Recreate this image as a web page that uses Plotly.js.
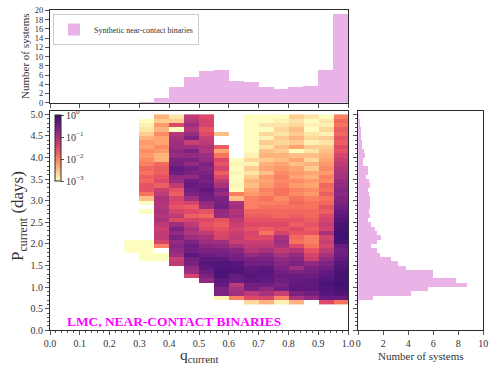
<!DOCTYPE html>
<html>
<head>
<meta charset="utf-8">
<script src="https://cdn.plot.ly/plotly-3.0.1.min.js"></script>
<style>html,body{margin:0;padding:0;background:#fff;}#chart{width:498px;height:367px;}</style>
</head>
<body>
<div id="chart"></div>
<script>
const _ = null;
// q_current bins (left edges), width 0.05
const qBinLeft = [0.25,0.30,0.35,0.40,0.45,0.50,0.55,0.60,0.65,0.70,0.75,0.80,0.85,0.90,0.95];
const qBinWidth = 0.05;
// top histogram: number of systems per q bin
const qCounts = [0.03,0.15,1.0,3.4,5.6,6.9,7.1,4.7,4.5,3.4,3.0,3.4,3.6,7.1,19.3];
// P_current bins (left edges start 0.6, width 0.1, 44 bins)
const pBinStart = 0.6;
const pBinWidth = 0.1;
// right histogram: number of systems per P bin (from P=0.6 upward)
const pCounts = [0.05,1.2,4.2,5.6,8.7,7.8,6.0,6.0,3.8,3.2,
                 2.6,1.7,1.5,1.0,1.5,1.8,1.5,1.3,1.0,0.8,
                 0.9,0.85,0.9,0.95,0.9,0.85,0.8,0.9,0.85,0.6,
                 0.8,0.75,0.4,0.4,0.5,0.45,0.3,0.3,0.25,0.25,
                 0.2,0.15,0.15,0.05];
// 2D density, log10 values; each column listed from P=4.9-5.0 (top) down to P=0.6-0.7 (bottom)
const q025 = [_,_,_,_,_,_,_,_,_,_, _,_,_,_,_,_,_,_,_,_, _,_,_,_,_,_,_,_,_,-3, -3,-3,_,_,_,_,_,_,_,_, _,_,_,_];
const q030 = [_,-3,-2.9,-2.8,-2.6,-2.4,-2.2,-2.3,-2.1,-2.2, -2.1,-2.0,-1.8,-1.9,-1.7,-1.8,-1.6,-1.6,-1.9,-2.5, -3,_,-3,_,_,_,_,_,_,-3, -3,-3,-3,-3,_,_,_,_,_,_, _,_,_,_];
const q035 = [-2.4,-2.6,-2.2,-2.4,-2.1,-2.3,-2.3,-2.1,-2.2,-2.4, -2.4,-1.8,-1.7,-1.7,-1.6,-1.5,-1.7,-1.3,-1.2,-1.0, -1.1,-1.1,-1.0,-1.1,-1.0,-1.2,-1.3,-1.2,-1.2,-1.4, -2.0,_,-3,-3,_,_,_,_,_,_, _,_,_,_];
const q040 = [-2.8,-2.6,-1.5,-3,-1.1,-1.0,-0.9,-0.9,-0.75,-0.85, -0.6,-0.55,-0.4,-0.45,-0.8,-0.85,-1.2,-1.6,-1.7,-1.4, -1.5,-1.6,-1.4,-1.2,-1.5,-0.9,-0.6,-0.8,-0.6,-0.8, -0.7,-0.8,-0.9,-1.3,-1.2,_,_,_,_,_, _,_,_,_];
const q045 = [-1.2,-1.1,-0.9,-1.1,-0.85,-0.6,-1.3,-0.9,-0.6,-0.8, -0.6,-0.8,-0.5,-0.6,-0.8,-0.45,-0.4,-0.5,-0.6,-0.9, -1.4,-1.7,-1.5,-1.7,-1.4,-1.2,-1.0,-1.1,-0.9,-0.6, -0.45,-0.5,-0.3,-0.5,-0.55,-0.8,-0.9,-1.4,_,_, _,_,_,_];
const q050 = [-1.5,-1.4,-1.4,-1.6,-1.5,-1.3,-1.2,-1.0,-1.1,-0.9, -0.85,-0.6,-0.7,-0.6,-0.5,-0.55,-0.45,-0.35,-0.45,-0.5, -0.8,-0.9,-1.6,-1.8,-1.5,-1.6,-1.5,-1.2,-1.0,-0.9, -0.7,-0.6,-0.45,-0.3,-0.25,-0.3,-0.45,-0.6,-0.8,_, _,_,_,_];
const q055 = [_,_,_,_,-2.5,_,_,-1.7,-2.3,-1.9, -1.5,-1.6,-1.4,-1.7,-1.5,-1.2,-1.0,-0.7,-0.85,-0.6, -0.55,-0.5,-0.8,-0.85,-1.6,-1.7,-1.6,-1.5,-1.4,-0.9, -0.8,-0.6,-0.5,-0.3,-0.2,-0.2,-0.15,-0.15,-0.3,-0.4, -0.6,-0.6,-2.9,_];
const q060 = [_,_,_,_,_,_,_,_,_,_, -3,-2.95,-3,-2.95,-3,-3,-2.95,-3,-2.0,-2.5, -1.0,-0.9,-1.1,-1.0,-1.2,-1.3,-1.4,-1.3,-1.2,-1.3, -1.0,-0.7,-0.6,-0.5,-0.25,-0.2,-0.2,-0.4,-0.45,-1.2, -1.0,-0.9,-2.0,_];
const q065 = [-3,-3,-3,-3,-3,-3,-3,-3,-3,-2.9, -2.7,-2.9,-2.6,-2.8,-2.6,-2.4,-2.5,-2.3,-2.2,-2.0, -2.0,-2.0,-1.8,-1.7,-1.6,-1.5,-1.6,-1.4,-1.5,-1.3, -1.2,-1.1,-0.8,-0.6,-0.5,-0.35,-0.3,-0.25,-0.3,-0.5, -0.55,-1.2,-1.5,-2.7];
const q070 = [-3,-3,-2.8,-3,-2.7,-2.9,-2.6,-2.8,-2.5,-2.4, -2.6,-2.4,-2.3,-2.5,-2.2,-2.3,-2.2,-2.0,-2.1,-1.9, -2.0,-1.9,-1.8,-1.7,-1.6,-1.5,-1.7,-1.9,-1.5,-1.3, -1.2,-1.0,-0.7,-0.6,-0.5,-0.3,-0.25,-0.3,-0.35,-0.5, -0.8,-1.0,-1.4,-2.4];
const q075 = [-3,-2.9,-2.8,-2.7,-2.8,-2.6,-2.7,-2.5,-2.6,-2.4, -2.5,-2.3,-2.2,-2.1,-2.0,-2.1,-2.0,-1.9,-1.9,-2.1, -2.0,-1.9,-1.8,-1.8,-1.6,-1.5,-1.6,-1.4,-1.0,-0.9, -1.0,-1.2,-1.0,-0.8,-0.7,-0.6,-0.5,-0.4,-0.5,-0.6, -0.5,-1.3,-2.0,-2.9];
const q080 = [-2.6,-2.8,-2.7,-2.5,-2.6,-2.4,-2.6,-2.3,-3,-2.5, -2.3,-2.5,-2.3,-2.2,-2.3,-2.1,-2.2,-2.0,-2.1,-1.9, -1.8,-1.9,-1.8,-1.7,-1.6,-1.7,-1.5,-1.6,-1.8,-1.9, -1.5,-1.1,-0.8,-0.7,-0.6,-0.9,-0.6,-0.45,-0.4,-0.35, -0.3,-0.6,-1.0,-2.4];
const q085 = [-2.8,-3,-2.9,-3,-2.8,-2.7,-2.9,-2.6,-2.8,-2.5, -2.7,-2.4,-2.6,-2.3,-2.4,-2.2,-2.3,-2.1,-2.2,-2.0, -1.9,-1.9,-1.8,-1.8,-1.7,-1.6,-1.7,-1.6,-2.0,-2.0, -1.9,-1.6,-1.4,-1.3,-0.8,-0.6,-0.5,-0.45,-0.35,-0.35, -0.3,-0.5,-0.8,_];
const q090 = [-3,-2.8,-2.9,-2.7,-2.9,-2.6,-2.8,-2.6,-2.5,-2.4, -2.3,-2.2,-2.1,-2.2,-2.0,-2.1,-1.8,-1.9,-1.7,-1.9, -1.8,-1.6,-1.7,-1.5,-1.4,-1.3,-1.4,-1.0,-1.4,-1.3, -1.4,-1.2,-1.0,-0.8,-0.6,-0.5,-0.35,-0.3,-0.2,-0.15, -0.2,-0.25,-0.4,-1.5];
const q095 = [-2.0,-1.8,-1.9,-1.7,-1.8,-1.6,-1.7,-1.5,-1.6,-1.4, -1.3,-1.2,-1.1,-1.0,-1.0,-0.85,-0.8,-0.7,-0.75,-0.65, -0.6,-0.5,-0.4,-0.3,-0.2,-0.15,-0.1,-0.05,-0.05,-0.1, -0.4,-0.5,-0.45,-0.35,-0.25,-0.2,-0.15,-0.1,-0.1,-0.05, -0.1,-0.2,-0.4,-1.9];
const densityColumns = [q025,q030,q035,q040,q045,q050,q055,q060,q065,q070,q075,q080,q085,q090,q095];
const cbTickVals = [0,-1,-2,-3];
const cbTickText = ['10<sup>0</sup>','10<sup>−1</sup>','10<sup>−2</sup>','10<sup>−3</sup>'];
const legendName = 'Synthetic near-contact binaries';
const panelLabel = 'LMC, NEAR-CONTACT BINARIES';
const xTitle = 'q<sub>current</sub>';
const yTitle = 'P<sub>current</sub> (days)';
const histTitle = 'Number of systems';

// ---- build traces ----
const nP = pCounts.length;
const z = [];
for (let r = 0; r < nP; r++) {
  const row = [];
  for (let c = 0; c < densityColumns.length; c++) row.push(densityColumns[c][nP - 1 - r]);
  z.push(row);
}
const qCenters = qBinLeft.map(v => v + qBinWidth / 2);
const pCenters = pCounts.map((_v, i) => pBinStart + pBinWidth * (i + 0.5));

const W = 498, H = 367;
const fx = p => p / W, fy = p => 1 - p / H;
const FONT = 'Liberation Serif, Times New Roman, serif';
const histColor = '#e9b3e8';
const axisCol = '#2b2b2b';
const txtCol = '#333333';

const magma = [
  [0.000, '#fcfdbf'], [0.125, '#fecf92'], [0.250, '#fe9f6d'], [0.375, '#f7705c'],
  [0.500, '#de4968'], [0.625, '#b73779'], [0.750, '#8c2981'], [0.875, '#641a80'], [1.000, '#3b0f70']
];

const heat = {
  type: 'heatmap', z: z, x0: qCenters[0], dx: qBinWidth, y0: pCenters[0], dy: pBinWidth,
  xaxis: 'x', yaxis: 'y', zmin: -3, zmax: 0, colorscale: magma, showlegend: false,
  hoverongaps: false,
  colorbar: {
    x: fx(55), xanchor: 'left', y: fy(115), yanchor: 'top',
    len: 66, lenmode: 'pixels', thickness: 6, thicknessmode: 'pixels',
    xpad: 0, ypad: 0, outlinewidth: 1, outlinecolor: axisCol,
    tickmode: 'array', tickvals: cbTickVals, ticktext: cbTickText,
    ticks: 'outside', ticklen: 3, tickwidth: 0.8, tickcolor: axisCol,
    tickfont: { family: FONT, size: 10, color: txtCol }
  }
};
const topHist = {
  type: 'bar', x: qCenters, y: qCounts, width: qBinWidth, xaxis: 'x2', yaxis: 'y2',
  marker: { color: histColor, line: { width: 0 } }, name: legendName, showlegend: true
};
const rightHist = {
  type: 'bar', orientation: 'h', y: pCenters, x: pCounts, width: pBinWidth, xaxis: 'x3', yaxis: 'y3',
  marker: { color: histColor, line: { width: 0 } }, showlegend: false
};

const common = {
  showgrid: false, zeroline: false, showline: true, mirror: true, linecolor: axisCol, linewidth: 1,
  ticks: 'outside', tickcolor: axisCol, tickwidth: 0.8, ticklen: 4,
  tickfont: { family: FONT, size: 10, color: txtCol }, automargin: false
};

const layout = {
  width: W, height: H, margin: { l: 0, r: 0, t: 0, b: 0 },
  paper_bgcolor: '#fff', plot_bgcolor: '#fff', bargap: 0,
  font: { family: FONT, color: txtCol },
  xaxis: Object.assign({}, common, {
    domain: [fx(50), fx(348)], range: [0, 1], anchor: 'y', dtick: 0.1, tick0: 0, tickformat: '.1f',
    minor: { dtick: 0.02, ticks: 'outside', ticklen: 2, tickcolor: axisCol, showgrid: false }
  }),
  yaxis: Object.assign({}, common, {
    domain: [fy(330.3), fy(110.5)], range: [0, 5.09], anchor: 'x', dtick: 0.5, tick0: 0, tickformat: '.1f',
    minor: { dtick: 0.1, ticks: 'outside', ticklen: 2, tickcolor: axisCol, showgrid: false }
  }),
  xaxis2: Object.assign({}, common, {
    domain: [fx(50), fx(348)], range: [0, 1], anchor: 'y2', dtick: 0.1, tick0: 0, showticklabels: false
  }),
  yaxis2: Object.assign({}, common, {
    domain: [fy(102.7), fy(10)], range: [0, 20.1], anchor: 'x2', dtick: 2, tick0: 0,
    tickfont: { family: FONT, size: 8.5, color: txtCol }
  }),
  xaxis3: Object.assign({}, common, {
    domain: [fx(358.3), fx(483.3)], range: [0, 10], anchor: 'y3', dtick: 2, tick0: 0
  }),
  yaxis3: Object.assign({}, common, {
    domain: [fy(330.3), fy(110.5)], range: [0, 5.09], anchor: 'x3', dtick: 0.5, tick0: 0, showticklabels: false,
    minor: { dtick: 0.1, ticks: 'outside', ticklen: 2, tickcolor: axisCol, showgrid: false }
  }),
  legend: {
    x: fx(53), y: fy(14), xanchor: 'left', yanchor: 'top', bgcolor: 'rgba(255,255,255,0.9)',
    bordercolor: '#cccccc', borderwidth: 1, font: { family: FONT, size: 8, color: txtCol },
    itemwidth: 30, tracegroupgap: 0
  },
  annotations: [
    { text: '<b>' + panelLabel + '</b>', xref: 'paper', yref: 'paper', x: fx(65), y: fy(321.5),
      xanchor: 'left', yanchor: 'middle', showarrow: false,
      font: { family: FONT, size: 13.4, color: '#ff00ff' } },
    { text: xTitle, xref: 'paper', yref: 'paper', x: fx(199), y: fy(355), xanchor: 'center', yanchor: 'middle',
      showarrow: false, font: { family: FONT, size: 15.5, color: txtCol } },
    { text: yTitle, xref: 'paper', yref: 'paper', x: fx(19), y: fy(216), xanchor: 'center', yanchor: 'middle',
      textangle: -90, showarrow: false, font: { family: FONT, size: 17, color: txtCol } },
    { text: histTitle, xref: 'paper', yref: 'paper', x: fx(25), y: fy(56), xanchor: 'center', yanchor: 'middle',
      textangle: -90, showarrow: false, font: { family: FONT, size: 11, color: txtCol } },
    { text: histTitle, xref: 'paper', yref: 'paper', x: fx(421), y: fy(356), xanchor: 'center', yanchor: 'middle',
      showarrow: false, font: { family: FONT, size: 11, color: txtCol } }
  ]
};

Plotly.newPlot('chart', [heat, topHist, rightHist], layout, { staticPlot: true, displayModeBar: false });
</script>
</body>
</html>
